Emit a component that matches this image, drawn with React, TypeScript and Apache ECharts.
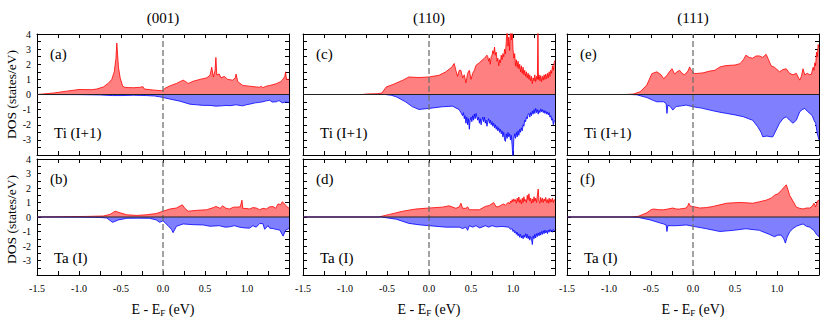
import React, { useEffect, useRef } from 'react';
import * as echarts from 'echarts';

type P = [number, number][];

// (001) Ti (I+1)
const aUp: P = [[-1.5,0],[-1.3,0.1],[-1.15,0.22],[-1.0,0.33],[-0.85,0.32],[-0.79,0.36],[-0.71,0.5],[-0.65,0.75],[-0.61,1.0],[-0.58,1.5],[-0.56,2.4],[-0.55,3.4],[-0.54,2.6],[-0.53,1.8],[-0.51,1.1],[-0.48,0.55],[-0.45,0.46],[-0.35,0.45],[-0.28,0.47],[-0.24,0.52],[-0.22,0.36],[-0.12,0.3],[-0.02,0.25],[0.0,0.27],[0.02,0.4],[0.08,0.57],[0.16,0.73],[0.24,0.95],[0.27,0.85],[0.30,0.73],[0.36,0.88],[0.44,1.0],[0.52,1.1],[0.56,1.27],[0.58,1.8],[0.60,1.15],[0.62,1.6],[0.63,2.45],[0.64,1.3],[0.67,1.35],[0.69,1.1],[0.73,1.2],[0.77,1.0],[0.83,0.95],[0.86,1.1],[0.87,1.35],[0.89,0.85],[0.95,0.6],[1.03,0.55],[1.11,0.5],[1.15,0.48],[1.17,0.55],[1.19,0.45],[1.23,0.55],[1.27,0.6],[1.31,0.65],[1.35,0.72],[1.38,0.8],[1.40,0.85],[1.42,0.95],[1.45,1.2],[1.46,1.5],[1.47,1.0],[1.5,1.0]];
const aDn: P = [[-1.5,0],[-1.0,-0.01],[-0.75,-0.03],[-0.6,-0.07],[-0.5,-0.07],[-0.35,-0.05],[-0.2,-0.07],[-0.1,-0.1],[-0.04,-0.15],[0,-0.2],[0.08,-0.3],[0.2,-0.44],[0.32,-0.64],[0.4,-0.68],[0.48,-0.72],[0.56,-0.72],[0.63,-0.77],[0.7,-0.75],[0.75,-0.72],[0.8,-0.74],[0.87,-0.68],[0.92,-0.73],[0.95,-0.75],[0.99,-0.68],[1.03,-0.64],[1.1,-0.55],[1.15,-0.52],[1.19,-0.48],[1.23,-0.42],[1.27,-0.38],[1.3,-0.5],[1.35,-0.48],[1.38,-0.4],[1.42,-0.55],[1.46,-0.5],[1.5,-0.52]];
// (001) Ta (I)
const bUp: P = [[-1.5,0],[-1.2,0.02],[-0.9,0.04],[-0.71,0.07],[-0.63,0.18],[-0.57,0.4],[-0.51,0.29],[-0.43,0.15],[-0.31,0.11],[-0.2,0.15],[-0.08,0.24],[0,0.4],[0.08,0.55],[0.16,0.62],[0.23,0.84],[0.26,0.6],[0.30,0.4],[0.40,0.46],[0.52,0.5],[0.6,0.65],[0.63,0.73],[0.68,0.6],[0.71,0.77],[0.75,0.6],[0.79,0.55],[0.84,0.68],[0.87,0.68],[0.92,0.7],[0.94,1.16],[0.95,0.6],[1.0,0.58],[1.03,0.55],[1.07,0.65],[1.11,0.62],[1.15,0.5],[1.19,0.6],[1.23,0.55],[1.27,0.7],[1.31,0.72],[1.34,0.6],[1.37,0.9],[1.4,0.85],[1.42,1.05],[1.44,0.95],[1.46,0.8],[1.5,0.6]];
const bDn: P = [[-1.5,0],[-1.0,-0.01],[-0.75,-0.03],[-0.67,-0.07],[-0.6,-0.37],[-0.53,-0.2],[-0.43,-0.09],[-0.3,-0.08],[-0.16,-0.09],[-0.08,-0.2],[-0.04,-0.37],[0,-0.26],[0.06,-0.6],[0.1,-0.85],[0.12,-1.08],[0.16,-0.64],[0.24,-0.48],[0.36,-0.53],[0.48,-0.55],[0.56,-0.64],[0.67,-0.6],[0.74,-0.7],[0.79,-0.68],[0.85,-0.6],[0.91,-0.7],[0.97,-0.75],[1.03,-0.77],[1.07,-0.6],[1.11,-0.7],[1.15,-0.45],[1.19,-0.46],[1.21,-0.85],[1.25,-0.6],[1.27,-0.77],[1.31,-0.8],[1.35,-0.86],[1.39,-0.9],[1.43,-1.32],[1.46,-0.9],[1.5,-0.8]];
// (110) Ti (I+1)
const cUp: P = [[-1.5,0],[-0.8,0],[-0.72,0.04],[-0.62,0.05],[-0.56,0.1],[-0.51,0.5],[-0.43,0.66],[-0.31,0.95],[-0.24,1.16],[-0.12,1.12],[0,1.16],[0.12,1.27],[0.2,1.5],[0.27,1.8],[0.30,2.05],[0.32,1.6],[0.34,1.2],[0.36,1.6],[0.38,1.6],[0.40,1.1],[0.42,1.3],[0.44,0.77],[0.46,1.4],[0.48,1.6],[0.50,1.0],[0.52,1.4],[0.54,1.6],[0.56,1.93],[0.6,2.1],[0.63,2.26],[0.66,2.4],[0.69,2.6],
  [0.70,2.5],[0.71,2.2],[0.72,2.4],[0.73,2.0],[0.74,2.5],[0.75,2.6],[0.76,2.9],[0.77,2.7],[0.78,3.14],[0.79,2.6],[0.80,2.8],[0.81,2.2],[0.82,2.4],[0.83,1.9],[0.84,2.3],[0.85,2.1],[0.86,2.6],[0.87,2.3],[0.88,2.7],[0.89,2.5],[0.90,3.0],[0.91,2.7],[0.92,3.5],[0.93,4.5],[0.94,3.2],[0.95,3.8],[0.96,2.9],[0.97,4.5],[0.98,3.6],[0.99,4.3],[1.00,3.0],[1.01,2.4],[1.02,2.7],[1.03,1.9],[1.04,2.3],[1.05,1.8],[1.06,2.2],[1.07,1.7],[1.08,2.0],[1.09,1.5],[1.10,1.9],[1.11,1.4],[1.12,1.8],[1.13,1.3],[1.14,1.6],[1.15,1.2],[1.16,1.5],[1.17,1.1],[1.18,1.4],[1.19,1.0],[1.20,1.3],[1.21,0.9],[1.22,1.2],[1.23,0.72],[1.24,1.1],[1.25,0.9],[1.26,1.3],[1.27,0.85],[1.28,1.2],[1.29,1.0],[1.297,4.5],[1.303,1.0],[1.31,1.3],[1.32,0.9],[1.33,1.25],[1.34,0.85],[1.35,1.2],[1.36,0.95],[1.37,1.3],[1.38,1.0],[1.39,1.35],[1.40,1.05],[1.41,1.4],[1.42,1.1],[1.43,1.5],[1.44,1.2],[1.45,1.6],[1.46,1.4],[1.47,1.9],[1.48,1.6],[1.49,2.1],[1.50,2.26]];
const cDn: P = [[-1.5,0],[-0.52,0],[-0.45,-0.05],[-0.39,-0.15],[-0.28,-0.48],[-0.2,-0.8],[-0.12,-0.99],[0,-0.92],[0.16,-0.81],[0.28,-0.77],[0.36,-1.0],[0.38,-1.2],
  [0.40,-1.4],[0.41,-1.2],[0.42,-1.6],[0.43,-1.4],[0.44,-1.9],[0.45,-1.5],[0.46,-2.0],[0.47,-1.6],[0.48,-2.3],[0.49,-1.7],[0.50,-1.5],[0.51,-1.8],[0.52,-1.4],[0.53,-1.7],[0.54,-1.3],[0.55,-1.6],[0.56,-1.25],[0.57,-1.5],[0.58,-1.7],[0.59,-1.5],[0.60,-1.9],[0.61,-1.6],[0.62,-2.0],[0.63,-1.7],[0.64,-1.5],[0.65,-1.8],[0.66,-1.5],[0.67,-1.9],[0.68,-1.7],[0.69,-2.1],[0.70,-1.8],[0.71,-1.6],[0.72,-1.9],[0.73,-1.7],[0.74,-2.0],[0.75,-1.8],[0.76,-2.1],[0.77,-1.9],[0.78,-2.2],[0.79,-2.0],[0.80,-2.3],[0.81,-2.1],[0.82,-2.4],[0.83,-2.2],[0.84,-2.5],[0.85,-2.3],[0.86,-2.6],[0.87,-2.4],[0.88,-2.8],[0.89,-2.5],[0.90,-3.0],[0.91,-3.1],[0.92,-2.6],[0.93,-2.9],[0.94,-2.5],[0.95,-2.8],[0.96,-2.6],[0.97,-3.0],[0.98,-2.7],[0.99,-3.4],[1.00,-4.3],[1.01,-2.9],[1.02,-2.6],[1.03,-2.9],[1.04,-2.5],[1.05,-2.8],[1.06,-2.4],[1.07,-2.7],[1.08,-2.3],[1.09,-2.5],[1.10,-2.2],[1.11,-2.4],[1.12,-2.0],[1.13,-2.1],[1.14,-1.7],[1.15,-1.8],[1.16,-1.5],[1.17,-1.6],[1.18,-1.3],[1.19,-1.25],[1.20,-1.5],[1.21,-1.2],[1.22,-1.4],[1.23,-1.1],[1.24,-1.3],[1.25,-1.0],[1.26,-1.25],[1.27,-0.92],[1.28,-1.2],[1.29,-1.0],[1.30,-1.3],[1.31,-1.05],[1.32,-1.2],[1.33,-0.95],[1.34,-1.15],[1.35,-1.0],[1.36,-1.2],[1.37,-1.05],[1.38,-1.25],[1.39,-1.1],[1.40,-1.3],[1.41,-1.15],[1.42,-1.35],[1.43,-1.2],[1.44,-1.5],[1.45,-1.4],[1.46,-1.7],[1.47,-1.6],[1.48,-2.0],[1.49,-1.8],[1.50,-1.7]];
// (110) Ta (I)
const dUp: P = [[-1.5,0],[-0.6,0],[-0.47,0.18],[-0.31,0.4],[-0.16,0.55],[0,0.62],[0.16,0.68],[0.24,0.77],[0.32,0.6],[0.36,0.7],[0.38,0.95],[0.40,0.6],[0.44,0.6],[0.46,0.7],[0.48,0.5],[0.6,0.5],[0.67,0.73],[0.72,0.8],[0.77,1.0],[0.8,0.7],[0.83,0.72],[0.87,0.85],
  [0.89,0.9],[0.91,0.8],[0.93,0.95],[0.95,1.0],[0.96,0.9],[0.97,1.1],[0.98,1.0],[0.99,1.2],[1.00,1.05],[1.01,1.25],[1.02,1.1],[1.03,1.2],[1.04,0.95],[1.05,1.3],[1.06,1.05],[1.07,1.38],[1.08,1.0],[1.09,1.2],[1.10,0.9],[1.11,1.3],[1.12,1.0],[1.13,1.4],[1.14,1.1],[1.15,1.2],[1.16,1.0],[1.17,1.5],[1.18,1.2],[1.19,1.6],[1.20,1.1],[1.21,1.3],[1.22,0.95],[1.23,1.25],[1.24,1.0],[1.25,1.4],[1.26,1.1],[1.27,1.3],[1.28,1.0],[1.29,1.5],[1.30,1.93],[1.31,1.1],[1.32,0.95],[1.33,1.35],[1.34,1.05],[1.35,1.3],[1.36,1.0],[1.37,1.25],[1.38,1.1],[1.39,1.35],[1.40,1.0],[1.41,1.2],[1.42,0.95],[1.43,1.3],[1.44,1.0],[1.45,1.25],[1.46,1.05],[1.47,1.3],[1.48,1.0],[1.49,1.2],[1.50,1.15]];
const dDn: P = [[-1.5,0],[-0.57,0],[-0.39,-0.15],[-0.24,-0.44],[-0.1,-0.55],[0,-0.6],[0.2,-0.7],[0.36,-0.7],[0.4,-0.8],[0.44,-0.7],[0.46,-0.92],[0.48,-0.6],[0.52,-0.7],[0.56,-0.6],[0.6,-0.75],[0.63,-0.7],[0.67,-0.6],[0.71,-0.7],[0.75,-0.6],[0.8,-0.68],[0.87,-0.65],
  [0.95,-0.7],[0.97,-0.85],[0.99,-0.8],[1.00,-1.0],[1.01,-0.9],[1.02,-1.1],[1.03,-1.0],[1.04,-1.2],[1.05,-1.05],[1.06,-1.3],[1.07,-1.15],[1.08,-1.4],[1.09,-1.2],[1.10,-1.45],[1.11,-1.3],[1.12,-1.5],[1.13,-1.25],[1.14,-1.4],[1.15,-1.15],[1.16,-1.45],[1.17,-1.2],[1.18,-1.5],[1.19,-1.3],[1.20,-1.6],[1.21,-1.35],[1.22,-1.5],[1.23,-1.9],[1.24,-1.3],[1.25,-1.5],[1.26,-1.2],[1.27,-1.45],[1.28,-1.15],[1.29,-1.35],[1.30,-1.1],[1.31,-1.3],[1.32,-1.05],[1.33,-1.25],[1.34,-1.0],[1.35,-1.2],[1.36,-0.95],[1.37,-1.15],[1.38,-0.9],[1.39,-1.1],[1.40,-0.95],[1.41,-1.15],[1.42,-0.9],[1.43,-1.05],[1.44,-0.85],[1.45,-1.0],[1.46,-0.9],[1.47,-1.05],[1.48,-0.85],[1.49,-0.95],[1.50,-0.92]];
// (111) Ti (I+1)
const eUp: P = [[-1.5,0],[-0.8,0],[-0.71,0.03],[-0.63,0.18],[-0.55,0.62],[-0.49,1.38],[-0.43,1.5],[-0.38,1.3],[-0.35,1.05],[-0.31,1.25],[-0.29,1.43],[-0.25,1.71],[-0.22,1.35],[-0.19,1.5],[-0.16,1.6],[-0.13,1.4],[-0.1,1.3],[-0.06,1.55],[-0.04,1.82],[-0.02,1.6],[0.02,1.38],[0.12,1.43],[0.2,1.55],[0.26,1.6],[0.32,1.82],[0.38,1.9],[0.44,1.93],[0.5,1.95],[0.56,2.04],[0.6,2.3],[0.63,2.6],[0.67,2.45],[0.71,2.4],[0.75,2.55],[0.79,2.55],[0.83,2.45],[0.87,2.66],[0.9,2.3],[0.93,1.9],[0.97,1.8],[1.0,1.65],[1.03,1.5],[1.07,1.65],[1.11,1.7],[1.15,1.4],[1.19,1.3],[1.23,1.4],[1.27,0.95],[1.29,1.2],[1.31,1.7],[1.33,1.3],[1.36,1.4],[1.39,1.3],[1.41,1.35],[1.43,1.8],[1.44,1.6],[1.45,2.1],[1.46,1.9],[1.47,2.8],[1.48,2.5],[1.49,3.3],[1.5,3.1]];
const eDn: P = [[-1.5,0],[-0.75,0],[-0.67,-0.02],[-0.55,-0.2],[-0.47,-0.4],[-0.43,-0.48],[-0.35,-0.48],[-0.32,-0.6],[-0.31,-1.25],[-0.30,-0.7],[-0.27,-0.8],[-0.24,-1.03],[-0.22,-0.9],[-0.2,-0.8],[-0.14,-0.75],[-0.08,-0.7],[0,-0.81],[0.1,-0.9],[0.2,-1.03],[0.3,-1.15],[0.4,-1.25],[0.5,-1.35],[0.6,-1.47],[0.66,-1.6],[0.71,-1.7],[0.77,-2.13],[0.81,-2.5],[0.83,-2.79],[0.88,-2.75],[0.92,-2.79],[0.95,-2.8],[0.99,-2.35],[1.03,-1.9],[1.07,-1.6],[1.11,-1.47],[1.15,-1.7],[1.19,-1.9],[1.23,-1.7],[1.27,-1.15],[1.3,-1.0],[1.33,-0.92],[1.36,-1.1],[1.39,-1.25],[1.42,-1.4],[1.44,-1.7],[1.46,-1.9],[1.48,-2.6],[1.5,-3.0]];
// (111) Ta (I)
const fUp: P = [[-1.5,0],[-0.75,0],[-0.65,0.05],[-0.55,0.29],[-0.5,0.5],[-0.47,0.55],[-0.4,0.5],[-0.35,0.5],[-0.3,0.55],[-0.24,0.62],[-0.2,0.55],[-0.16,0.55],[-0.08,0.62],[-0.06,0.8],[-0.05,0.95],[-0.03,0.75],[0.02,0.7],[0.08,0.62],[0.16,0.65],[0.24,0.73],[0.32,0.84],[0.4,0.95],[0.48,0.98],[0.56,1.0],[0.64,0.98],[0.71,0.95],[0.79,1.05],[0.87,1.16],[0.93,1.3],[0.97,1.5],[1.01,1.6],[1.05,1.82],[1.09,2.1],[1.11,2.22],[1.13,1.9],[1.15,1.5],[1.19,1.1],[1.23,0.68],[1.27,0.6],[1.31,0.55],[1.35,0.62],[1.39,0.62],[1.42,0.75],[1.44,0.95],[1.46,0.7],[1.48,1.1],[1.5,1.16]];
const fDn: P = [[-1.5,0],[-0.75,0],[-0.65,-0.03],[-0.51,-0.2],[-0.4,-0.4],[-0.35,-0.48],[-0.32,-0.55],[-0.31,-1.0],[-0.30,-0.6],[-0.26,-0.6],[-0.2,-0.6],[-0.08,-0.55],[0,-0.64],[0.16,-0.81],[0.32,-1.0],[0.48,-0.92],[0.63,-0.81],[0.79,-0.92],[0.91,-1.2],[0.97,-1.36],[1.01,-1.25],[1.05,-1.25],[1.08,-1.5],[1.10,-1.8],[1.12,-1.4],[1.15,-1.03],[1.19,-0.8],[1.23,-0.64],[1.27,-0.55],[1.31,-0.48],[1.35,-0.64],[1.39,-0.7],[1.42,-0.85],[1.44,-0.92],[1.47,-1.2],[1.5,-1.36]];

const columnTitles = ['(001)', '(110)', '(111)'];
const rowAtoms = ['Ti (I+1)', 'Ta (I)'];
const panelTags = [['(a)', '(c)', '(e)'], ['(b)', '(d)', '(f)']];
const upData = [[aUp, cUp, eUp], [bUp, dUp, fUp]];
const dnData = [[aDn, cDn, eDn], [bDn, dDn, fDn]];
const xRange = [-1.5, 1.5];
const yRange = [-4, 4];
const yName = 'DOS (states/eV)';

const FONT = 'Liberation Serif';
const colLeft = [37, 303, 567];
const rowTop = [34, 159];
const PW = 252;
const PH = 121;

export default function App() {
  const ref = useRef<HTMLDivElement>(null);
  useEffect(() => {
    if (!ref.current) return;
    const chart = echarts.init(ref.current, undefined, { renderer: 'svg' });
    const grids: any[] = [];
    const xAxes: any[] = [];
    const yAxes: any[] = [];
    const series: any[] = [];
    const graphics: any[] = [];
    const tickCommon = {
      axisLine: { show: true, onZero: false, lineStyle: { color: '#000', width: 1 } },
      axisTick: { show: true, inside: true, length: 4, lineStyle: { color: '#000', width: 1 } },
      minorTick: { show: true, splitNumber: 2, length: 4, lineStyle: { color: '#000', width: 1 } },
      splitLine: { show: false },
    };
    const txt = (size: number) => ({ fontSize: size, fontFamily: FONT, fill: '#000' });
    for (let r = 0; r < 2; r++) {
      for (let c = 0; c < 3; c++) {
        const idx = r * 3 + c;
        grids.push({ left: colLeft[c], top: rowTop[r], width: PW, height: PH, show: false });
        const xBase = { type: 'value', gridIndex: idx, min: xRange[0], max: xRange[1], interval: 0.5, ...tickCommon };
        xAxes.push({
          ...xBase,
          position: 'bottom',
          axisLabel: {
            show: r === 1,
            margin: 8,
            fontSize: 10,
            fontFamily: FONT,
            color: '#000',
            formatter: (v: number) => (Math.abs(v - 1.5) < 1e-6 ? '' : v.toFixed(1)),
          },
          name: r === 1 ? '{a|E - E}{s|F}{a| (eV)}' : '',
          nameLocation: 'middle',
          nameGap: 26,
          nameTextStyle: {
            rich: {
              a: { fontSize: 14, fontFamily: FONT, color: '#000', lineHeight: 16, verticalAlign: 'middle' },
              s: { fontSize: 9, fontFamily: FONT, color: '#000', lineHeight: 16, verticalAlign: 'bottom', padding: [6, 0, 0, 0] },
            },
          },
        });
        xAxes.push({ ...xBase, position: 'top', axisLabel: { show: false } });
        const yBase = { type: 'value', gridIndex: idx, min: yRange[0], max: yRange[1], interval: 1, ...tickCommon };
        yAxes.push({
          ...yBase,
          position: 'left',
          axisLabel: {
            show: c === 0,
            margin: 6,
            fontSize: 10,
            fontFamily: FONT,
            color: '#000',
            formatter: (v: number) => (v === -4 ? '' : String(v)),
          },
        });
        yAxes.push({ ...yBase, position: 'right', axisLabel: { show: false } });
        const xi = idx * 2;
        const yi = idx * 2;
        series.push({
          type: 'line', xAxisIndex: xi, yAxisIndex: yi, data: upData[r][c], symbol: 'none', showSymbol: false,
          lineStyle: { color: '#ff0000', width: 0.8 }, areaStyle: { color: '#ff8080', opacity: 1, origin: 'auto' }, z: 2, clip: true, silent: true,
        });
        series.push({
          type: 'line', xAxisIndex: xi, yAxisIndex: yi, data: dnData[r][c], symbol: 'none', showSymbol: false,
          lineStyle: { color: '#0000ff', width: 0.8 }, areaStyle: { color: '#8080ff', opacity: 1, origin: 'auto' }, z: 2, clip: true, silent: true,
        });
        series.push({
          type: 'line', xAxisIndex: xi, yAxisIndex: yi, data: [[0, yRange[0]], [0, yRange[1]]], symbol: 'none',
          lineStyle: { color: '#707070', width: 1.3, type: [6, 3] }, z: 3, silent: true,
        });
        series.push({
          type: 'line', xAxisIndex: xi, yAxisIndex: yi, data: [[xRange[0], 0], [xRange[1], 0]], symbol: 'none',
          lineStyle: { color: '#222', width: 1 }, z: 4, silent: true,
        });
        graphics.push({
          type: 'text', left: colLeft[c] + 13, top: rowTop[r] + 12,
          style: { text: panelTags[r][c], ...txt(15) }, z: 10,
        });
        graphics.push({
          type: 'text', left: colLeft[c] + 17, top: rowTop[r] + 91,
          style: { text: rowAtoms[r], ...txt(15) }, z: 10,
        });
      }
      graphics.push({
        type: 'text', x: 11, y: rowTop[r] + PH / 2, rotation: Math.PI / 2,
        style: { text: yName, ...txt(13.5), align: 'center', verticalAlign: 'middle' },
      });
    }
    for (let c = 0; c < 3; c++) {
      graphics.push({
        type: 'text', x: colLeft[c] + PW / 2, y: 18,
        style: { text: columnTitles[c], ...txt(15), align: 'center', verticalAlign: 'middle' },
      });
    }
    chart.setOption({
      animation: false,
      backgroundColor: '#fff',
      textStyle: { fontFamily: FONT },
      grid: grids,
      xAxis: xAxes,
      yAxis: yAxes,
      series,
      graphic: graphics,
    });
    return () => chart.dispose();
  }, []);
  return <div ref={ref} style={{ position: 'fixed', left: 0, top: 0, width: 830, height: 318 }} />;
}
